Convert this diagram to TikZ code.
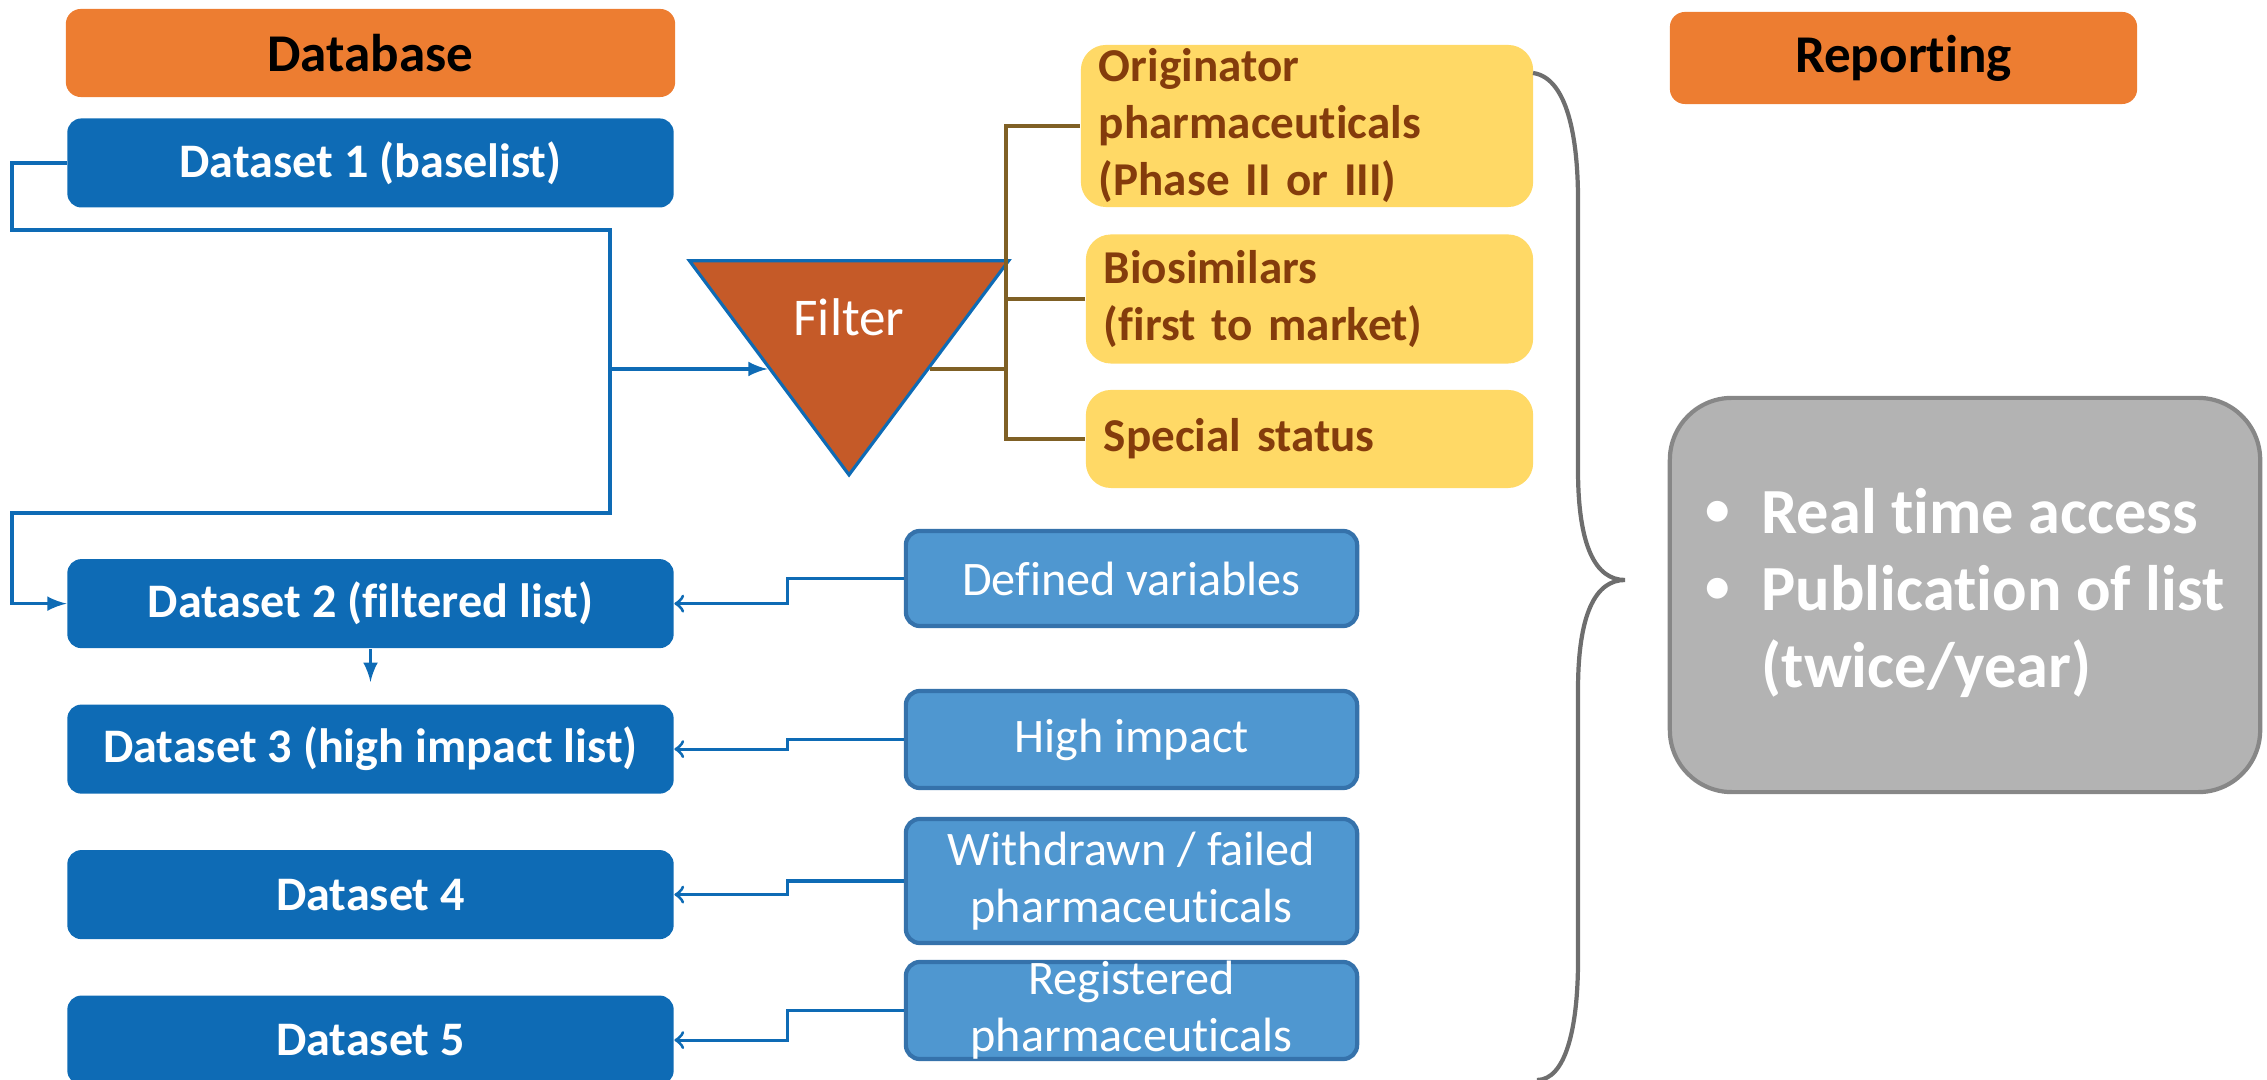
\documentclass[tikz,border=0pt]{standalone}
\usepackage{fontspec}
\setmainfont{Carlito}[Ligatures=NoCommon]
\usepackage{tikz}
\usetikzlibrary{shapes, arrows, positioning}

\definecolor{dbblue}{HTML}{0E6BB5}
\definecolor{varblue}{HTML}{4F97D0}
\definecolor{varedge}{HTML}{3572AB}
\definecolor{headorange}{HTML}{ED7D31}
\definecolor{crityellow}{HTML}{FFD966}
\definecolor{critbrown}{HTML}{843C0C}
\definecolor{filterred}{HTML}{C55A28}
\definecolor{treebrown}{HTML}{7F6025}
\definecolor{repgray}{HTML}{B3B3B3}
\definecolor{repedge}{HTML}{878787}
\definecolor{bracegray}{HTML}{6E6E6E}

\newcommand{\repbullet}{\makebox[0.56cm][l]{\raisebox{0.12em}{\fontsize{14}{14}\selectfont\textbullet}}}

\begin{document}
\begin{tikzpicture}[x=0.01cm, y=-0.01cm, node distance=0.55cm,
        headbox/.style={rectangle, rounded corners=0.15cm, fill=headorange, font=\fontsize{15.1}{17}\selectfont\bfseries},
        databox/.style={rectangle, rounded corners=0.14cm, fill=dbblue, text=white, minimum width=6.06cm, minimum height=0.89cm, font=\fontsize{13.7}{16}\selectfont\bfseries},
        varbox/.style={rectangle, rounded corners=0.14cm, draw=varedge, line width=1.2pt, fill=varblue, text=white, minimum width=4.51cm, align=center, font=\fontsize{13.7}{16.2}\selectfont},
        critbox/.style={rectangle, rounded corners=0.25cm, fill=crityellow, text=critbrown, inner xsep=0.18cm, inner ysep=0pt, align=left, font=\fontsize{13.4}{16.2}\selectfont\bfseries},
        bluelink/.style={draw=dbblue, line width=0.9pt},
        brownlink/.style={draw=treebrown, line width=0.9pt}]
        \useasboundingbox (0,0) rectangle (2267,1080);

        \node (database) [headbox, minimum width=6.09cm, minimum height=0.88cm] at (370.5,53) {Database};
        \node (ds1) [databox, below=0.2cm of database] {Dataset 1 (baselist)};
        \node (ds2) [databox, below=3.5cm of ds1] {Dataset 2 (filtered list)};
        \node (ds3) [databox, below=of ds2] {Dataset 3 (high impact list)};
        \node (ds4) [databox, below=of ds3] {Dataset 4};
        \node (ds5) [databox, below=of ds4] {Dataset 5};

        \node (defvar) [varbox, minimum height=0.95cm] at (1131.5,578.5) {Defined variables};
        \node (highimp) [varbox, minimum height=0.97cm] at (1131.5,739.5) {High impact};
        \node (withdrawn) [varbox, minimum height=1.24cm] at (1131.5,881) {Withdrawn / failed\\pharmaceuticals};
        \node (registered) [varbox, minimum height=0.97cm, inner ysep=-1.5pt] at (1131.5,1010.5) {Registered\\pharmaceuticals};

        \node (filter) [isosceles triangle, isosceles triangle stretches, shape border rotate=270, minimum width=3.19cm, minimum height=2.14cm, inner sep=0pt, fill=filterred, draw=dbblue, line width=0.9pt, text=white, font=\fontsize{15.1}{17}\selectfont, anchor=apex] at (849,479) {Filter};

        \node (orig) [critbox, minimum width=4.52cm, text width=4.16cm, minimum height=1.62cm] at (1307,126) {Originator\\pharmaceuticals\\(Phase II or III)};
        \node (bio) [critbox, minimum width=4.47cm, text width=4.11cm, minimum height=1.29cm, below left=0.26cm and 0cm of orig.south east] {Biosimilars\\(first to market)};
        \node (special) [critbox, minimum width=4.47cm, text width=4.11cm, minimum height=0.98cm, below=0.25cm of bio] {Special status};

        \node (reporting) [headbox, minimum width=4.67cm, minimum height=0.92cm] at (1903.5,58) {Reporting};
        \node (access) [rectangle, rounded corners=0.62cm, fill=repgray, draw=repedge, line width=1.2pt, minimum width=5.9cm, minimum height=3.94cm, text=white, font=\fontsize{18.3}{21.9}\selectfont\bfseries] at (1965,595)
            {\begin{tabular}{@{}l@{}l@{}}\repbullet & Real time access\\ \repbullet & Publication of list\\ & (twice/year)\end{tabular}};

        \coordinate (split) at (610,369);
        \coordinate (fork) at (1006,369);

        \draw[bluelink, -latex] (ds1.west) -| (12,230) -| (split) |- (12,513) |- (ds2.west);
        \draw[bluelink, -latex] (split) -- (filter.right side |- split);
        \draw[bluelink, -latex, shorten >=0.22cm] (ds2.south) -- (ds3.north);

        \draw[bluelink, ->] (defvar.west) -- ++(-116,0) |- (ds2.east);
        \draw[bluelink, ->] (highimp.west) -- ++(-116,0) |- (ds3.east);
        \draw[bluelink, ->] (withdrawn.west) -- ++(-116,0) |- (ds4.east);
        \draw[bluelink, ->] (registered.west) -- ++(-116,0) |- (ds5.east);

        \draw[brownlink] (filter.left side |- fork) -- (fork);
        \draw[brownlink] (fork) |- (orig.west);
        \draw[brownlink] (fork) |- (bio.west);
        \draw[brownlink] (fork) |- (special.west);

        \draw[bracegray, line width=1.2pt] (1533,73) .. controls (1568,78) and (1578,140) .. (1578,200) -- (1578,470) .. controls (1578,545) and (1595,580) .. (1625,580) .. controls (1595,580) and (1578,615) .. (1578,690) -- (1578,960) .. controls (1578,1030) and (1565,1080) .. (1537,1080);
    \end{tikzpicture}
\end{document}
